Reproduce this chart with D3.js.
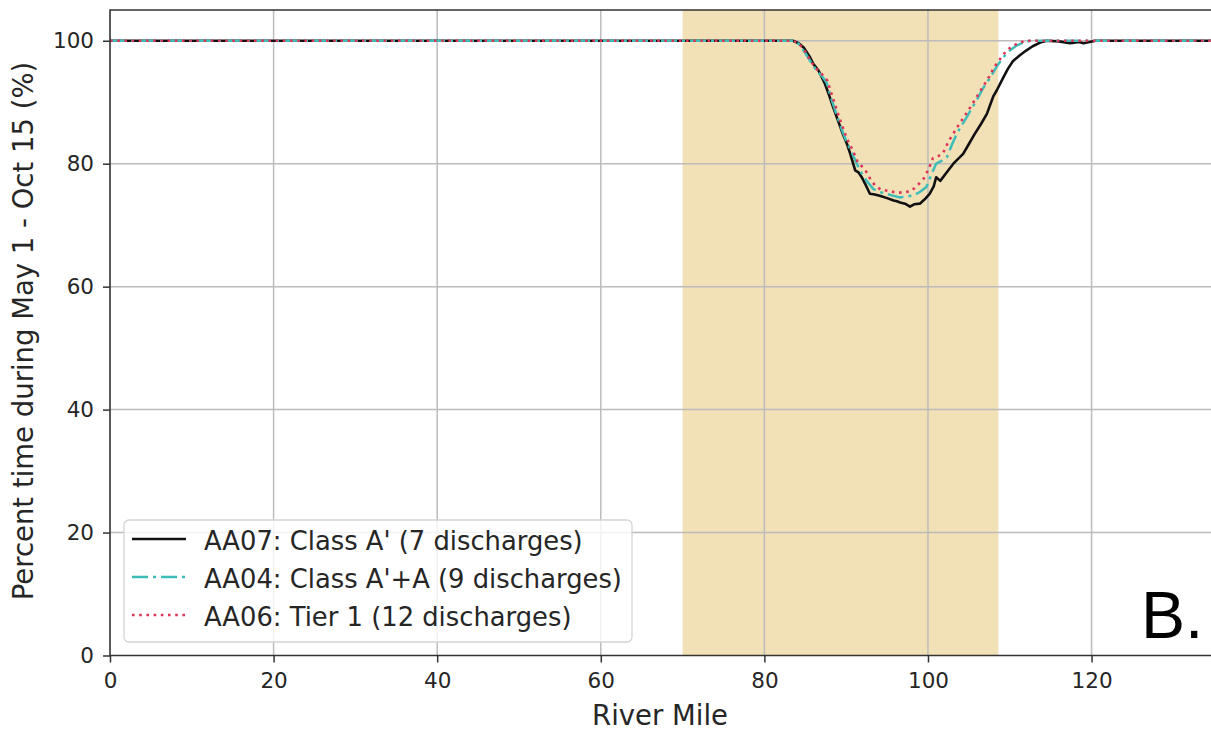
<!DOCTYPE html>
<html>
<head>
<meta charset="utf-8">
<script src="https://cdn.jsdelivr.net/npm/d3@7"></script>
<style>
  body { margin: 0; background: #fff; }
  svg { display: block; font-family: "DejaVu Sans", sans-serif; }
</style>
</head>
<body>
<svg id="chart" width="1211" height="730"></svg>
<script>
// data: [river mile, percent]
const aa07 = [[0,100],[83.5,100],[84.2,99.6],[84.8,98.9],[85.5,97.5],[86,96.2],[86.6,95.2],[87.4,93.0],[87.9,91.2],[88.4,89.2],[89,87],[89.6,84.8],[90.1,83.2],[90.5,81.6],[91.1,78.9],[91.5,78.6],[91.9,77.8],[92.4,76.5],[92.9,75.1],[93.5,75.0],[94.1,74.8],[95,74.4],[95.8,74.0],[96.2,73.9],[96.6,73.7],[97.2,73.5],[97.8,73.0],[98.3,73.4],[99,73.5],[99.6,74.2],[100.2,75.1],[100.7,76.3],[101,77.8],[101.5,77.2],[102.3,78.6],[103.1,80.0],[104.3,81.6],[105,83.2],[105.7,84.8],[106.5,86.5],[107.2,88.1],[108,91.0],[108.4,91.9],[109.2,94.0],[109.8,95.5],[110.4,96.7],[111.2,97.6],[112,98.4],[112.8,99.1],[113.7,99.7],[114.5,100],[116,99.9],[117.4,99.6],[118.5,99.8],[119,99.6],[120.5,100],[135,100]];
const aa04 = [[0,100],[83.5,100],[84.2,99.5],[85,98],[85.7,96.5],[86.4,95.1],[87.0,94.3],[87.6,93.2],[88.2,90.5],[88.8,88.1],[89.4,85.8],[90.0,83.7],[90.7,81.8],[91.3,80],[91.9,78.4],[92.5,77.2],[93.3,75.9],[94.1,75.4],[94.9,75.1],[95.7,74.8],[96.6,74.5],[97.4,74.7],[98.2,74.8],[99,75.4],[99.8,76.2],[100.4,78.2],[101.0,80],[101.6,80.4],[102.3,81.0],[102.9,83],[103.5,84.8],[104.1,86.2],[104.7,87.5],[105.3,88.9],[105.9,90.2],[106.7,92.2],[107.6,94.0],[108.4,95.8],[109.2,97.3],[110.0,98.4],[110.8,99.2],[112.0,99.9],[113,100],[135,100]];
const aa06 = [[0,100],[83.5,100],[84.2,99.6],[85,98.2],[85.6,96.8],[86.3,95.5],[87,94.6],[87.7,93.5],[88.3,91],[88.9,88.5],[89.5,86.2],[90.1,84.0],[90.8,82.2],[91.4,80.3],[91.9,79.6],[92.4,78.8],[93,77.4],[93.5,76.5],[94.2,75.8],[95,75.6],[95.8,75.4],[96.5,75.3],[97.3,75.4],[98,75.6],[98.8,76.6],[99.5,77.6],[100.1,79.2],[100.6,80.9],[101.2,81.2],[101.8,81.6],[102.5,83.6],[103.1,84.9],[103.7,86.2],[104.4,87.6],[105,88.8],[105.6,90.1],[106.3,91.6],[106.9,92.9],[107.5,94.2],[108.1,95.7],[108.8,97.0],[109.6,98.4],[110.3,99.1],[111.2,99.7],[112,100],[135,100]];

const seriesNames = ["AA07: Class A' (7 discharges)", "AA04: Class A'+A (9 discharges)", "AA06: Tier 1 (12 discharges)"];
const shadeRange = [70, 108.6];
const xTicks = [0, 20, 40, 60, 80, 100, 120];
const yTicks = [0, 20, 40, 60, 80, 100];

const svg = d3.select("#chart");

const x = d3.scaleLinear().domain([0, 134.6]).range([110, 1211]);
const y = d3.scaleLinear().domain([0, 105]).range([655.5, 10]);

const styles = [
    {color: "#111", dash: null, width: 2.6},
    {color: "#3ebdb8", dash: "16,5,3,5", width: 2.5},
    {color: "#dc3558", dash: "2.6,4.6", width: 2.6}
];

// shaded reach
svg.append("rect")
    .attr("x", x(shadeRange[0]))
    .attr("y", y(105))
    .attr("width", x(shadeRange[1]) - x(shadeRange[0]))
    .attr("height", y(0) - y(105))
    .attr("fill", "#f2e0b7");

// grid
svg.append("g").selectAll("line")
    .data(xTicks.slice(1))
    .join("line")
    .attr("x1", d => x(d)).attr("x2", d => x(d))
    .attr("y1", y(0)).attr("y2", y(105))
    .attr("stroke", "#bcbcbc").attr("stroke-width", 1.5);
svg.append("g").selectAll("line")
    .data(yTicks.slice(1))
    .join("line")
    .attr("x1", x(0)).attr("x2", 1211)
    .attr("y1", d => y(d)).attr("y2", d => y(d))
    .attr("stroke", "#bcbcbc").attr("stroke-width", 1.5);

// lines
const line = d3.line().x(d => x(d[0])).y(d => y(d[1]));
[aa07, aa04, aa06].forEach((data, i) => {
    svg.append("path")
        .datum(data)
        .attr("fill", "none")
        .attr("stroke", styles[i].color)
        .attr("stroke-width", styles[i].width)
        .attr("stroke-dasharray", styles[i].dash)
        .attr("stroke-linejoin", "round")
        .attr("d", line);
});

// axes
const xAxis = svg.append("g")
    .attr("transform", `translate(0,${y(0)})`)
    .call(d3.axisBottom(x).tickValues(xTicks).tickSize(7).tickPadding(10));
const yAxis = svg.append("g")
    .attr("transform", `translate(${x(0)},0)`)
    .call(d3.axisLeft(y).tickValues(yTicks).tickSize(7).tickPadding(9));
[xAxis, yAxis].forEach(a => {
    a.select(".domain").remove();
    a.selectAll(".tick line").attr("stroke", "#333").attr("stroke-width", 1.5);
    a.selectAll(".tick text")
        .attr("fill", "#262626")
        .style("font-family", "DejaVu Sans")
        .style("font-size", "21.5px");
});

// spines (left, bottom, top)
svg.append("path")
    .attr("d", `M1211,${y(105)}H${x(0)}V${y(0)}H1211`)
    .attr("fill", "none")
    .attr("stroke", "#333")
    .attr("stroke-width", 1.6);

// axis labels
svg.append("text")
    .attr("x", 660).attr("y", 725)
    .attr("text-anchor", "middle")
    .attr("fill", "#262626")
    .style("font-size", "27.5px")
    .text("River Mile");
svg.append("text")
    .attr("transform", `translate(33,331) rotate(-90)`)
    .attr("text-anchor", "middle")
    .attr("fill", "#262626")
    .style("font-size", "27.5px")
    .text("Percent time during May 1 - Oct 15 (%)");

// legend
const legend = svg.append("g");
legend.append("rect")
    .attr("x", 124).attr("y", 520)
    .attr("width", 508).attr("height", 122)
    .attr("rx", 5)
    .attr("fill", "white").attr("fill-opacity", 0.8)
    .attr("stroke", "#d4d4d4").attr("stroke-width", 1.3);
seriesNames.forEach((name, i) => {
    const cy = 539 + i * 38;
    legend.append("line")
        .attr("x1", 132).attr("x2", 186)
        .attr("y1", cy).attr("y2", cy)
        .attr("stroke", styles[i].color)
        .attr("stroke-width", styles[i].width)
        .attr("stroke-dasharray", styles[i].dash);
    legend.append("text")
        .attr("x", 204).attr("y", cy + 11)
        .attr("fill", "#262626")
        .style("font-size", "25.8px")
        .text(name);
});

// panel letter
svg.append("text")
    .attr("x", 1141).attr("y", 638)
    .attr("fill", "#000")
    .style("font-family", "Liberation Sans")
    .style("font-size", "66px")
    .text("B.");
</script>
</body>
</html>
